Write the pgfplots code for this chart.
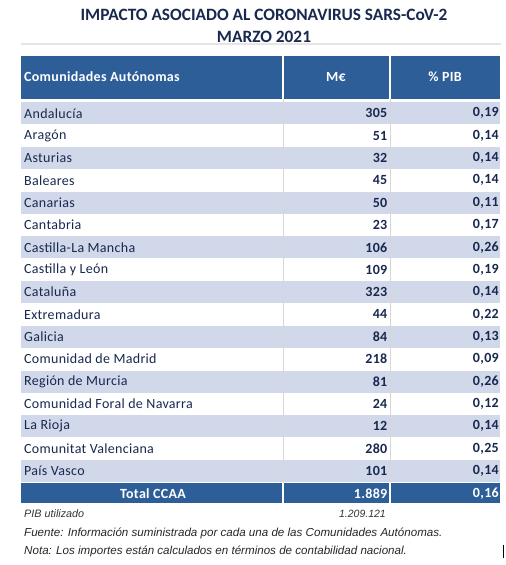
\documentclass[border=0pt]{standalone}
\usepackage{pgfplots}
\usepackage{pgfplotstable}
\pgfplotsset{compat=1.18}
\usepackage{fontspec}
\setmainfont{Carlito}[LetterSpace=2.2]
\newfontfamily\titlefont{Carlito}
\newfontfamily\arialfont{Liberation Sans}
\definecolor{hdr}{RGB}{46,94,152}
\definecolor{band}{RGB}{208,216,234}
\definecolor{ink}{RGB}{24,40,78}
\definecolor{sep}{RGB}{215,215,215}
\pgfplotstableread[col sep=semicolon]{
r;name;meur;pib
0;Andalucía;305;0.19
1;Aragón;51;0.14
2;Asturias;32;0.14
3;Baleares;45;0.14
4;Canarias;50;0.11
5;Cantabria;23;0.17
6;Castilla-La Mancha;106;0.26
7;Castilla y León;109;0.19
8;Cataluña;323;0.14
9;Extremadura;44;0.22
10;Galicia;84;0.13
11;Comunidad de Madrid;218;0.09
12;Región de Murcia;81;0.26
13;Comunidad Foral de Navarra;24;0.12
14;La Rioja;12;0.14
15;Comunitat Valenciana;280;0.25
16;País Vasco;101;0.14
}\datatab
\pgfplotstableread[col sep=semicolon]{
r;name;meur;pib
0;Total CCAA;1889;0.16
}\totaltab
\begin{document}
\begin{tikzpicture}
\begin{axis}[
  at={(0,0)}, anchor=south west,
  scale only axis, width=506pt, height=565pt,
  xmin=0, xmax=506, ymin=0, ymax=565, y dir=reverse,
  hide axis, clip=false,
  /pgf/number format/assume math mode=true,
]
% title
\node[font=\titlefont\fontsize{17.3}{20}\selectfont\bfseries, text=ink] at (264,15) {IMPACTO ASOCIADO AL CORONAVIRUS SARS-CoV-2};
\node[font=\titlefont\fontsize{17.3}{20}\selectfont\bfseries, text=ink] at (264,36.5) {MARZO 2021};
\draw[line width=1.5pt, black!10] (21,44) -- (501,44);
% header
\fill[hdr] (21,56) rectangle (500,99);
% bands
\pgfplotsinvokeforeach{0,2,4,6,8,10,12,14,16}{
  \fill[band] (21,{102.3+22.35*#1}) rectangle (500,{124.3+22.35*#1});
}
% total row
\fill[hdr] (21,483) rectangle (500,503);
% separators
\draw[sep, line width=0.8pt] (283,99) -- (283,483);
\draw[sep, line width=0.8pt] (390,99) -- (390,483);
\draw[white, line width=1.2pt] (283,56) -- (283,99);
\draw[white, line width=1.2pt] (390,56) -- (390,99);
\draw[white, line width=1.2pt] (283,483) -- (283,503);
\draw[white, line width=1.2pt] (390,483) -- (390,503);
% header text
\node[anchor=west, inner sep=0pt, text=white, font=\fontsize{14}{16}\selectfont\bfseries] at (24,77) {Comunidades Autónomas};
\node[text=white, font=\fontsize{14}{16}\selectfont\bfseries] at (336,77) {M€};
\node[text=white, font=\fontsize{14}{16}\selectfont\bfseries] at (445,77) {\% PIB};
% names
\addplot[draw=none, mark=none, point meta=explicit symbolic, nodes near coords,
  every node near coord/.append style={anchor=west, inner sep=0pt, text=ink, font=\fontsize{14}{16}\selectfont}]
  table[x expr=24, y expr=113.3+22.35*\thisrow{r}, meta=name] {\datatab};
% M euros
\addplot[draw=none, mark=none, point meta=explicit, nodes near coords,
  nodes near coords={\pgfmathprintnumber[fixed, precision=0]{\pgfplotspointmeta}},
  every node near coord/.append style={anchor=east, inner sep=0pt, text=ink, font=\fontsize{14}{16}\selectfont\bfseries}]
  table[x expr=387.5, y expr=113.3+22.35*\thisrow{r}, meta=meur] {\datatab};
% % PIB
\addplot[draw=none, mark=none, point meta=explicit, nodes near coords,
  nodes near coords={\pgfmathprintnumber[fixed, zerofill, precision=2, use comma]{\pgfplotspointmeta}},
  every node near coord/.append style={anchor=east, inner sep=0pt, text=ink, font=\fontsize{14}{16}\selectfont\bfseries}]
  table[x expr=499, y expr=113.3+22.35*\thisrow{r}, meta=pib] {\datatab};
% total row
\addplot[draw=none, mark=none, point meta=explicit symbolic, nodes near coords,
  every node near coord/.append style={anchor=center, inner sep=0pt, text=white, font=\fontsize{14}{16}\selectfont\bfseries}]
  table[x expr=153, y expr=493.5, meta=name] {\totaltab};
\addplot[draw=none, mark=none, point meta=explicit, nodes near coords,
  nodes near coords={\pgfmathprintnumber[fixed, precision=0, 1000 sep={.}]{\pgfplotspointmeta}},
  every node near coord/.append style={anchor=east, inner sep=0pt, text=white, font=\fontsize{14}{16}\selectfont\bfseries}]
  table[x expr=387.5, y expr=493.5, meta=meur] {\totaltab};
\addplot[draw=none, mark=none, point meta=explicit, nodes near coords,
  nodes near coords={\pgfmathprintnumber[fixed, zerofill, precision=2, use comma]{\pgfplotspointmeta}},
  every node near coord/.append style={anchor=east, inner sep=0pt, text=white, font=\fontsize{14}{16}\selectfont\bfseries}]
  table[x expr=499, y expr=493.5, meta=pib] {\totaltab};
% footer
\node[anchor=west, inner sep=0pt, text=black!80, font=\arialfont\fontsize{10.8}{12}\selectfont\itshape] at (24,514) {PIB utilizado};
\node[anchor=east, inner sep=0pt, text=black!80, font=\arialfont\fontsize{10.5}{12}\selectfont\itshape] at (386,514) {1.209.121};
\node[anchor=west, inner sep=0pt, text=black!85, font=\arialfont\fontsize{11.6}{13}\selectfont\itshape] at (24,533) {Fuente: Información suministrada por cada una de las Comunidades Autónomas.};
\node[anchor=west, inner sep=0pt, text=black!85, font=\arialfont\fontsize{11.6}{13}\selectfont\itshape] at (24,551) {Nota: Los importes están calculados en términos de contabilidad nacional.};
\draw[black, line width=1pt] (503,545) -- (503,558);
\end{axis}
\pgfresetboundingbox
\path[use as bounding box] (0,0) rectangle (506pt,565pt);
\end{tikzpicture}
\end{document}
